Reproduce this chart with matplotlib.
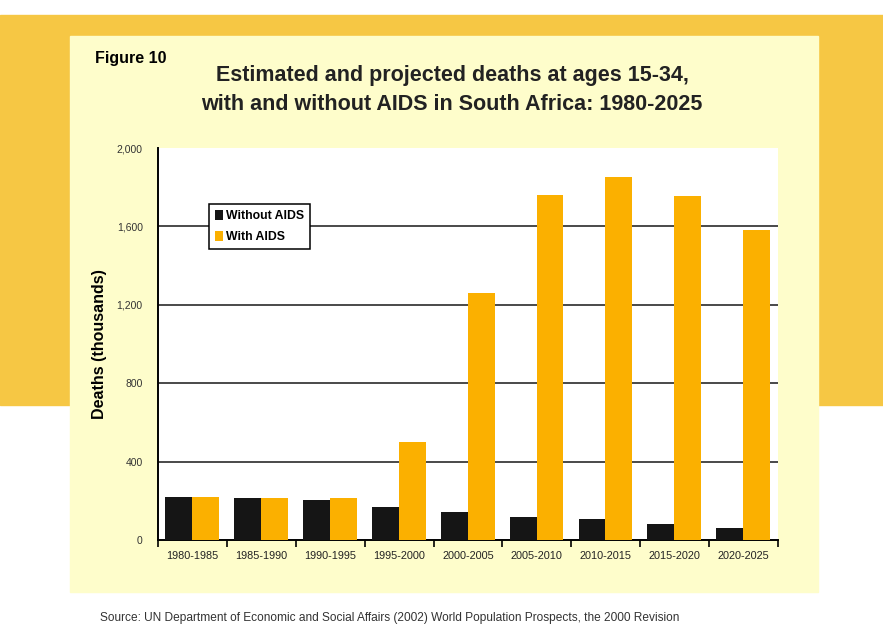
#!/usr/bin/env python3
"""Deaths at ages 15-34 with and without AIDS, South Africa 1980-2025."""

import numpy as np
import matplotlib

matplotlib.use("Agg")
import matplotlib.pyplot as plt
from matplotlib.patches import Rectangle

periods = ["1980-1985", "1985-1990", "1990-1995", "1995-2000", "2000-2005",
           "2005-2010", "2010-2015", "2015-2020", "2020-2025"]
without_aids = [220, 215, 205, 169, 144, 118, 106, 82, 62]
with_aids = [220, 215, 213, 498, 1260, 1762, 1852, 1757, 1580]
y_ticks = [0, 400, 800, 1200, 1600, 2000]
y_tick_labels = ["0", "400", "800", "1,200", "1,600", "2,000"]

W, H = 883, 629
FONT = ["Liberation Sans", "DejaVu Sans"]
GOLD = "#F6C744"
PALE = "#FEFDCB"
ORANGE = "#FBB000"
BLACK = "#151515"

plt.rcParams["font.family"] = FONT


def box(fig, x0, y0, x1, y1, color):
    # pixel coords from the top-left corner
    fig.patches.append(Rectangle((x0 / W, 1 - y1 / H), (x1 - x0) / W, (y1 - y0) / H,
                                 transform=fig.transFigure, color=color, zorder=-10))


fig = plt.figure(figsize=(W / 100, H / 100), dpi=100, facecolor="white")
box(fig, 0, 15, W, 405, GOLD)
box(fig, 70, 36, 818, 592, PALE)

ax = fig.add_axes([158 / W, 1 - 540 / H, 620 / W, 392 / H])
ax.set_facecolor("white")

x = np.arange(len(periods))
ax.bar(x - 0.2, without_aids, width=0.39, color=BLACK, label="Without AIDS", zorder=3)
ax.bar(x + 0.19, with_aids, width=0.39, color=ORANGE, label="With AIDS", zorder=3)

ax.set_xlim(-0.5, len(periods) - 0.5)
ax.set_ylim(0, 2000)
ax.set_yticks(y_ticks)
ax.set_yticklabels(y_tick_labels, fontsize=7.5, color="#333333")
ax.set_xticks(x)
ax.set_xticklabels(periods, fontsize=7.8, color="#222222")
ax.set_xticks(np.arange(-0.5, len(periods)), minor=True)
ax.tick_params(axis="x", which="major", length=0, pad=8)
ax.tick_params(axis="x", which="minor", length=5, width=1.2, direction="out")
ax.tick_params(axis="y", length=0, pad=11)

for val in y_ticks[1:-1]:
    ax.axhline(val, color="#3a3a3a", lw=1.3, zorder=1)

for side in ["top", "right"]:
    ax.spines[side].set_visible(False)
ax.spines["left"].set_linewidth(1.4)
ax.spines["bottom"].set_linewidth(1.4)

ax.set_ylabel("Deaths (thousands)", fontsize=11.5, fontweight="bold", labelpad=7)

leg = ax.legend(loc="upper left", bbox_to_anchor=(0.072, 0.874), fancybox=False,
                framealpha=1, edgecolor="black", handlelength=0.65, handleheight=0.9,
                handletextpad=0.25, borderpad=0.5, labelspacing=0.75,
                prop={"weight": "bold", "size": 8.8})
leg.get_frame().set_linewidth(1.1)
leg.set_zorder(5)

fig.text(95 / W, 1 - 58 / H, "Figure 10", fontweight="bold",
         fontsize=11.5, va="center", ha="left")
fig.text(452 / W, 1 - 90 / H,
         "Estimated and projected deaths at ages 15-34,\nwith and without AIDS in South Africa: 1980-2025",
         fontweight="bold", fontsize=15.5, ha="center", va="center",
         linespacing=1.45, color="#222222")
fig.text(100 / W, 1 - 618 / H,
         "Source: UN Department of Economic and Social Affairs (2002) World Population Prospects, the 2000 Revision",
         fontsize=8.6, ha="left", va="center", color="#333333")

fig.savefig("out.png", dpi=100)
plt.close(fig)
